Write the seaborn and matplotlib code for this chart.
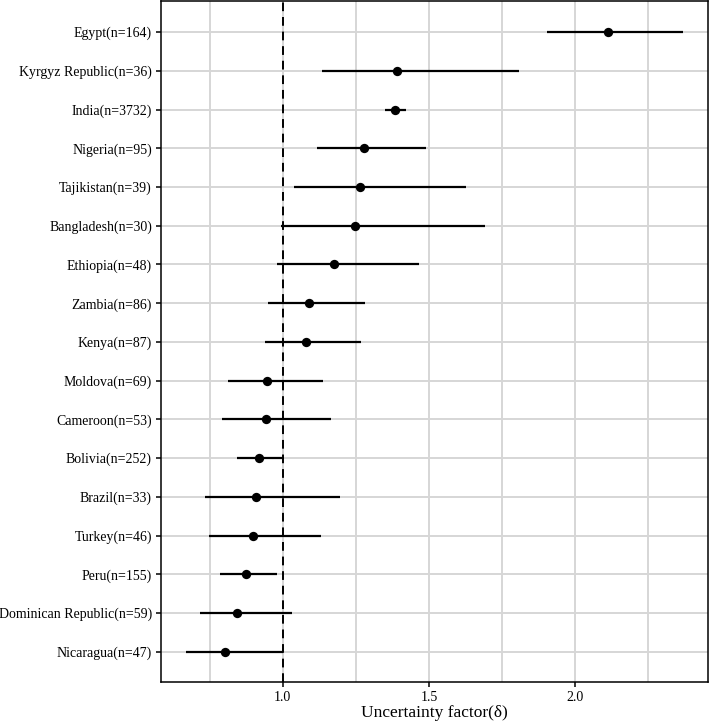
import matplotlib
matplotlib.use("Agg")
import matplotlib.pyplot as plt
import seaborn as sns
import numpy as np
import pandas as pd

countries = ["Egypt(n=164)", "Kyrgyz Republic(n=36)", "India(n=3732)", "Nigeria(n=95)",
             "Tajikistan(n=39)", "Bangladesh(n=30)", "Ethiopia(n=48)", "Zambia(n=86)",
             "Kenya(n=87)", "Moldova(n=69)", "Cameroon(n=53)", "Bolivia(n=252)",
             "Brazil(n=33)", "Turkey(n=46)", "Peru(n=155)", "Dominican Republic(n=59)",
             "Nicaragua(n=47)"]
estimate = [2.111, 1.390, 1.385, 1.278, 1.266, 1.248, 1.174, 1.090, 1.080,
            0.948, 0.943, 0.919, 0.909, 0.900, 0.873, 0.845, 0.802]
lower = [1.904, 1.133, 1.349, 1.119, 1.039, 0.994, 0.980, 0.949, 0.940,
         0.812, 0.793, 0.845, 0.734, 0.749, 0.785, 0.717, 0.669]
upper = [2.369, 1.808, 1.421, 1.490, 1.626, 1.691, 1.467, 1.280, 1.267,
         1.138, 1.165, 1.006, 1.196, 1.131, 0.981, 1.032, 1.001]
xticks = [1.0, 1.5, 2.0]
xtick_labels = ["1.0", "1.5", "2.0"]
x_label = "Uncertainty factor(δ)"

sns.set_theme(style="white")
plt.rcParams["font.family"] = ["Liberation Serif", "DejaVu Serif"]

n = len(countries)
df = pd.DataFrame({
    "country": countries,
    "est": estimate,
    "lo": lower,
    "hi": upper,
    "pos": np.arange(n)[::-1],
})

fig = plt.figure(figsize=(7.09, 7.25), dpi=100)
ax = fig.add_axes([161/709, 1 - 682/725, 547/709, 682/725 - 0.0015])

# grid
for v in [0.75, 1.0, 1.25, 1.5, 1.75, 2.0, 2.25]:
    ax.axvline(v, color="#d6d6d6", lw=1.4, zorder=0)
for p in df["pos"]:
    ax.axhline(p, color="#d6d6d6", lw=1.4, zorder=0)

ax.hlines(df["pos"], df["lo"], df["hi"], color="black", lw=1.6, zorder=2)
sns.scatterplot(data=df, x="est", y="pos", ax=ax, color="black", s=45,
                edgecolor="black", linewidth=0, zorder=3, legend=False)
ax.axvline(1.0, color="black", lw=1.4, ls=(0, (4.5, 3)), zorder=2.5)

rng = max(upper) - min(lower)
ax.set_xlim(min(lower) - 0.05 * rng, max(upper) + 0.05 * rng)
ax.set_ylim(-0.78, n - 1 + 0.8)
ax.set_yticks(df["pos"])
ax.set_yticklabels(df["country"], fontsize=10, color="black")
ax.set_xticks(xticks)
ax.set_xticklabels(xtick_labels, fontsize=10, color="black")
ax.set_xlabel(x_label, fontsize=12.5, color="black", labelpad=1)
ax.set_ylabel("")
ax.tick_params(axis="both", which="both", direction="out", length=3.5, width=1.1,
               color="black", left=True, bottom=True, pad=3)
for s in ax.spines.values():
    s.set_visible(True)
    s.set_color("black")
    s.set_linewidth(1.1)

fig.savefig("out.png", dpi=100)
